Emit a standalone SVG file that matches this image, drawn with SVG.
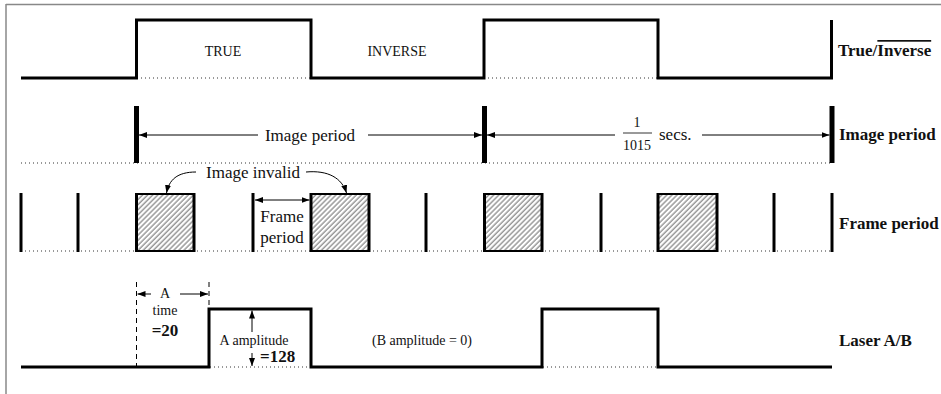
<svg xmlns="http://www.w3.org/2000/svg" width="941" height="394" viewBox="0 0 941 394">
<style>
text{font-family:"Liberation Serif","Times New Roman",serif;fill:#111}
.b{font-weight:bold;font-size:17px}
.r17{font-size:17px}
.r14{font-size:14px}
.wave{fill:none;stroke:#000;stroke-width:3;stroke-linejoin:miter}
.dot{fill:none;stroke:#333;stroke-width:1;stroke-dasharray:1 3}
.arr{fill:none;stroke:#000;stroke-width:1}
.bar5{stroke:#000;stroke-width:5}
.bar3{stroke:#000;stroke-width:3}
.dash{stroke:#000;stroke-width:1;stroke-dasharray:5 4}
</style>
<defs>
<marker id="ah" viewBox="0 0 8 6" refX="8" refY="3" markerWidth="8" markerHeight="6" markerUnits="userSpaceOnUse" orient="auto-start-reverse">
<path d="M0,0 L8,3 L0,6 Z" fill="#000"/>
</marker>
<pattern id="hatch" patternUnits="userSpaceOnUse" width="3.6" height="3.6" patternTransform="rotate(45)">
<line x1="1" y1="0" x2="1" y2="3.6" stroke="#555" stroke-width="0.9"/>
</pattern>
</defs>
<g id="frame">
<line x1="6" y1="4.5" x2="941" y2="4.5" stroke="#888" stroke-width="1.5"/>
<line x1="6" y1="4" x2="6" y2="394" stroke="#888" stroke-width="1.5"/>
</g>
<g id="row-true-inverse">
<path class="dot" d="M137,78 H311 M484,78 H658"/>
<path class="wave" d="M21,78 H136.5 V20 H311 V78 H484 V20 H658 V78 H831.5 V20"/>
<text class="r14" x="223" y="56" text-anchor="middle">TRUE</text>
<text class="r14" x="397" y="56" text-anchor="middle">INVERSE</text>
<text class="b" x="838" y="56">True/<tspan text-decoration="overline">Inverse</tspan></text>
</g>
<g id="row-image-period">
<path class="dot" d="M21,163 H832"/>
<line class="bar5" x1="136.5" y1="106" x2="136.5" y2="163"/>
<line class="bar5" x1="484.5" y1="106" x2="484.5" y2="163"/>
<line class="bar5" x1="832" y1="106" x2="832" y2="163"/>
<text class="r17" x="310" y="141" text-anchor="middle">Image period</text>
<text class="r14" x="637" y="127" text-anchor="middle">1</text>
<line x1="623" y1="133" x2="652" y2="133" stroke="#000" stroke-width="0.8"/>
<text class="r14" x="637" y="150" text-anchor="middle">1015</text>
<text class="r17" x="659" y="140">secs.</text>
<text class="b" x="839" y="140">Image period</text>
</g>
<g id="row-frame-period">
<path class="dot" d="M21,251 H832"/>
<line class="bar3" x1="21" y1="193" x2="21" y2="252"/>
<line class="bar3" x1="78" y1="193" x2="78" y2="252"/>
<line class="bar3" x1="253" y1="193" x2="253" y2="252"/>
<line class="bar3" x1="426" y1="193" x2="426" y2="252"/>
<line class="bar3" x1="601" y1="193" x2="601" y2="252"/>
<line class="bar3" x1="774" y1="193" x2="774" y2="252"/>
<line class="bar3" x1="832" y1="193" x2="832" y2="252"/>
<g id="invalid-1"><rect x="136.5" y="194" width="57.5" height="57" fill="url(#hatch)" stroke="#000" stroke-width="2"/><path class="bar3" d="M136.5,193 V252 M194,193 V252"/></g>
<g id="invalid-2"><rect x="311" y="194" width="58" height="57" fill="url(#hatch)" stroke="#000" stroke-width="2"/><path class="bar3" d="M311,193 V252 M369,193 V252"/></g>
<g id="invalid-3"><rect x="484.5" y="194" width="57.5" height="57" fill="url(#hatch)" stroke="#000" stroke-width="2"/><path class="bar3" d="M484.5,193 V252 M542,193 V252"/></g>
<g id="invalid-4"><rect x="658" y="194" width="59" height="57" fill="url(#hatch)" stroke="#000" stroke-width="2"/><path class="bar3" d="M658,193 V252 M717,193 V252"/></g>
<text class="r17" x="253" y="178" text-anchor="middle">Image invalid</text>
<text class="r17" x="282" y="222" text-anchor="middle">Frame</text>
<text class="r17" x="282" y="243" text-anchor="middle">period</text>
<text class="b" x="839" y="229">Frame period</text>
</g>
<g id="row-laser">
<path class="dot" d="M210,367 H311 M543,367 H658"/>
<path class="wave" d="M21,367 H209 V309 H311 V367 H542 V309 H658 V367 H832"/>
<line class="dash" x1="136.5" y1="282" x2="136.5" y2="366"/>
<line class="dash" x1="209" y1="282" x2="209" y2="308"/>
<text class="r14" x="165" y="298" text-anchor="middle">A</text>
<text class="r14" x="165" y="315" text-anchor="middle">time</text>
<text class="b" x="165" y="336" text-anchor="middle">=20</text>
<text class="r14" x="254" y="345" text-anchor="middle">A amplitude</text>
<text class="b" x="260" y="362">=128</text>
<text class="r14" x="422" y="345" text-anchor="middle">(B amplitude = 0)</text>
<text class="b" x="839" y="346">Laser A/B</text>
</g>
<g id="connectors">
<line class="arr" x1="258" y1="135" x2="139" y2="135" marker-end="url(#ah)"/>
<line class="arr" x1="368" y1="135" x2="482" y2="135" marker-end="url(#ah)"/>
<line class="arr" x1="615" y1="135" x2="487" y2="135" marker-end="url(#ah)"/>
<line class="arr" x1="702" y1="135" x2="829.5" y2="135" marker-end="url(#ah)"/>
<line class="arr" x1="255" y1="200" x2="309.5" y2="200" marker-start="url(#ah)" marker-end="url(#ah)"/>
<path class="arr" d="M196,172 C177,172 169,180 166.5,193" marker-end="url(#ah)"/>
<path class="arr" d="M306,172 C328,170 342,178 346.5,193" marker-end="url(#ah)"/>
<line class="arr" x1="151" y1="294" x2="137.5" y2="294" marker-end="url(#ah)"/>
<line class="arr" x1="180" y1="294" x2="208" y2="294" marker-end="url(#ah)"/>
<line class="arr" x1="252" y1="332" x2="252" y2="310.5" marker-end="url(#ah)"/>
<line class="arr" x1="252" y1="353" x2="252" y2="366" marker-end="url(#ah)"/>
</g>
</svg>
